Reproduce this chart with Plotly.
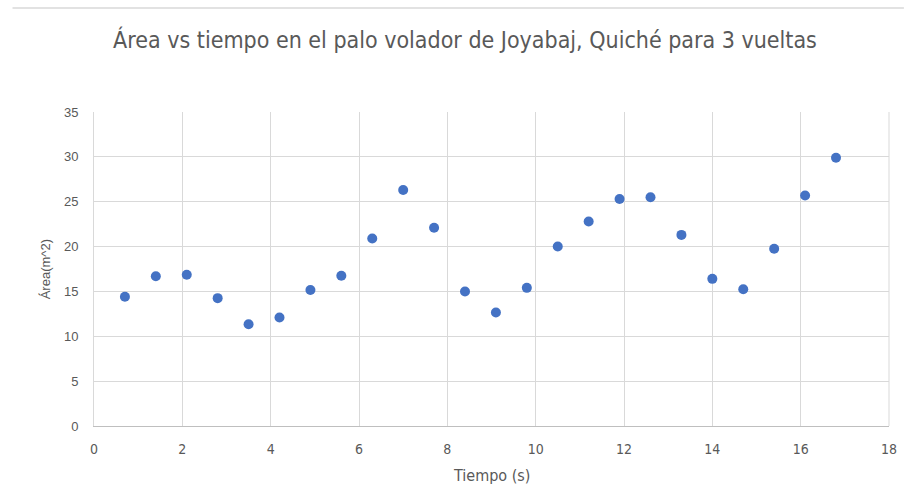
import plotly.graph_objects as go

# Tiempo (s) y área (m^2) medidos durante 3 vueltas
tiempo = [0.7, 1.4, 2.1, 2.8, 3.5, 4.2, 4.9, 5.6, 6.3, 7.0, 7.7, 8.4,
          9.1, 9.8, 10.5, 11.2, 11.9, 12.6, 13.3, 14.0, 14.7, 15.4, 16.1, 16.8]
area = [14.4, 16.7, 16.85, 14.25, 11.35, 12.1, 15.15, 16.75, 20.9, 26.3, 22.1, 15.0,
        12.65, 15.4, 20.0, 22.8, 25.3, 25.5, 21.3, 16.4, 15.25, 19.75, 25.7, 29.9]

x_ticks = [0, 2, 4, 6, 8, 10, 12, 14, 16, 18]
y_ticks = [0, 5, 10, 15, 20, 25, 30, 35]

GRID = "#d9d9d9"
TEXT = "#595959"
NARROW = "DejaVu Sans Condensed, Liberation Sans Narrow, sans-serif"
REGULAR = "Liberation Sans, Arial, sans-serif"

fig = go.Figure(
    go.Scatter(
        x=tiempo, y=area, mode="markers",
        marker=dict(size=10, color="#4472C4", line=dict(width=0)),
        showlegend=False,
    )
)

fig.update_layout(
    width=909, height=504,
    margin=dict(l=94, r=15, t=112, b=78),
    paper_bgcolor="white", plot_bgcolor="white",
    title=dict(
        text="Área vs tiempo en el palo volador de Joyabaj, Quiché para 3 vueltas",
        x=465 / 909, xanchor="center", xref="container",
        y=1 - 40 / 504, yanchor="middle", yref="container",
        font=dict(family=NARROW, size=23, color=TEXT),
    ),
    xaxis=dict(
        range=[0, 18], tickvals=x_ticks, ticktext=[str(v) for v in x_ticks],
        showgrid=True, gridcolor=GRID, gridwidth=1,
        showline=True, linecolor="#bfbfbf", linewidth=1, mirror=False,
        zeroline=False, ticks="", ticklen=0, ticklabelstandoff=10,
        tickfont=dict(family=NARROW, size=14, color=TEXT),
        fixedrange=True,
    ),
    yaxis=dict(
        range=[0, 35], tickvals=y_ticks, ticktext=[str(v) for v in y_ticks],
        showgrid=True, gridcolor=GRID, gridwidth=1,
        showline=True, linecolor=GRID, linewidth=1, mirror=False,
        zeroline=False, ticks="", ticklen=0, ticklabelstandoff=12,
        tickfont=dict(family=REGULAR, size=13, color=TEXT),
        fixedrange=True,
    ),
    annotations=[
        dict(text="Tiempo (s)", xref="paper", yref="paper",
             x=0.5, y=-49 / 314, xanchor="center", yanchor="middle",
             showarrow=False, font=dict(family=NARROW, size=16, color=TEXT)),
        dict(text="Área(m^2)", xref="paper", yref="paper",
             x=-49 / 800, y=0.5, xanchor="center", yanchor="middle",
             textangle=-90, showarrow=False,
             font=dict(family=REGULAR, size=13, color=TEXT)),
    ],
    shapes=[
        # thin rule along the top of the page
        dict(type="line", xref="paper", yref="paper",
             x0=-82 / 800, x1=1 + 15 / 800, y0=1 + 104 / 314, y1=1 + 104 / 314,
             line=dict(color=GRID, width=1.5)),
        # right border of the plot area
        dict(type="line", xref="paper", yref="paper",
             x0=1, x1=1, y0=0, y1=1, line=dict(color=GRID, width=1)),
    ],
)

fig.write_html("out.html")
